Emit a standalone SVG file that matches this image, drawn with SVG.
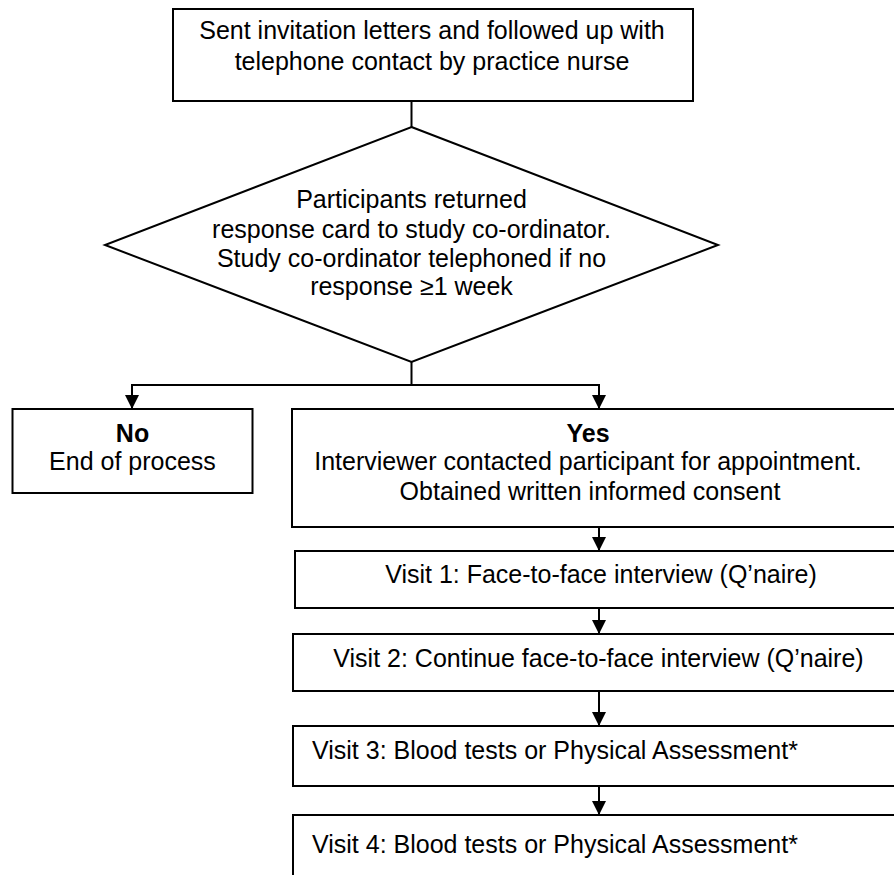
<svg xmlns="http://www.w3.org/2000/svg" width="894" height="875" viewBox="0 0 894 875">
<style>
.box{fill:#fff;stroke:#000;stroke-width:2}
.t{font-family:"Liberation Sans",Arial,sans-serif;font-size:25px;fill:#000}
.c{text-anchor:middle}
.b{font-weight:bold}
.ln{fill:none;stroke:#000;stroke-width:2}
</style>
<defs>
<marker id="ah" markerUnits="userSpaceOnUse" markerWidth="15" markerHeight="15" refX="14" refY="7" orient="auto">
<path d="M0,0 L14,7 L0,14 z" fill="#000"/>
</marker>
</defs>
<rect width="894" height="875" fill="#fff"/>
<g id="connectors">
<line class="ln" x1="411.5" y1="101" x2="411.5" y2="127"/>
<line class="ln" x1="411.5" y1="362" x2="411.5" y2="385"/>
<line class="ln" x1="131" y1="385" x2="600" y2="385"/>
<line class="ln" x1="132" y1="385" x2="132" y2="409" marker-end="url(#ah)"/>
<line class="ln" x1="599" y1="385" x2="599" y2="409" marker-end="url(#ah)"/>
<line class="ln" x1="599" y1="527" x2="599" y2="551" marker-end="url(#ah)"/>
<line class="ln" x1="599" y1="608" x2="599" y2="634" marker-end="url(#ah)"/>
<line class="ln" x1="599" y1="691" x2="599" y2="726" marker-end="url(#ah)"/>
<line class="ln" x1="599" y1="786" x2="599" y2="815" marker-end="url(#ah)"/>
</g>
<g id="start">
<rect class="box" x="173" y="9" width="520" height="92"/>
<text class="t c" x="432" y="39">Sent invitation letters and followed up with</text>
<text class="t c" x="432" y="70">telephone contact by practice nurse</text>
</g>
<g id="decision">
<polygon class="box" points="411.5,127 718,245 411.5,362 105,245"/>
<text class="t c" x="411.5" y="208">Participants returned</text>
<text class="t c" x="411.5" y="238">response card to study co-ordinator.</text>
<text class="t c" x="411.5" y="267">Study co-ordinator telephoned if no</text>
<text class="t c" x="411.5" y="295">response ≥1 week</text>
</g>
<g id="no">
<rect class="box" x="12.5" y="409" width="240" height="84"/>
<text class="t c b" x="132.5" y="442">No</text>
<text class="t c" x="132.5" y="470">End of process</text>
</g>
<g id="yes">
<rect class="box" x="292" y="409" width="620" height="118"/>
<text class="t c b" x="588" y="442">Yes</text>
<text class="t c" x="588" y="470">Interviewer contacted participant for appointment.</text>
<text class="t c" x="590" y="500">Obtained written informed consent</text>
</g>
<g id="visit1">
<rect class="box" x="295" y="551" width="617" height="57"/>
<text class="t c" x="601" y="583">Visit 1: Face-to-face interview (Q’naire)</text>
</g>
<g id="visit2">
<rect class="box" x="293" y="634" width="619" height="57"/>
<text class="t c" x="598.5" y="667">Visit 2: Continue face-to-face interview (Q’naire)</text>
</g>
<g id="visit3">
<rect class="box" x="293" y="726" width="619" height="60"/>
<text class="t" x="312" y="759">Visit 3: Blood tests or Physical Assessment*</text>
</g>
<g id="visit4">
<rect class="box" x="293" y="815" width="619" height="80"/>
<text class="t" x="312" y="853">Visit 4: Blood tests or Physical Assessment*</text>
</g>
</svg>
